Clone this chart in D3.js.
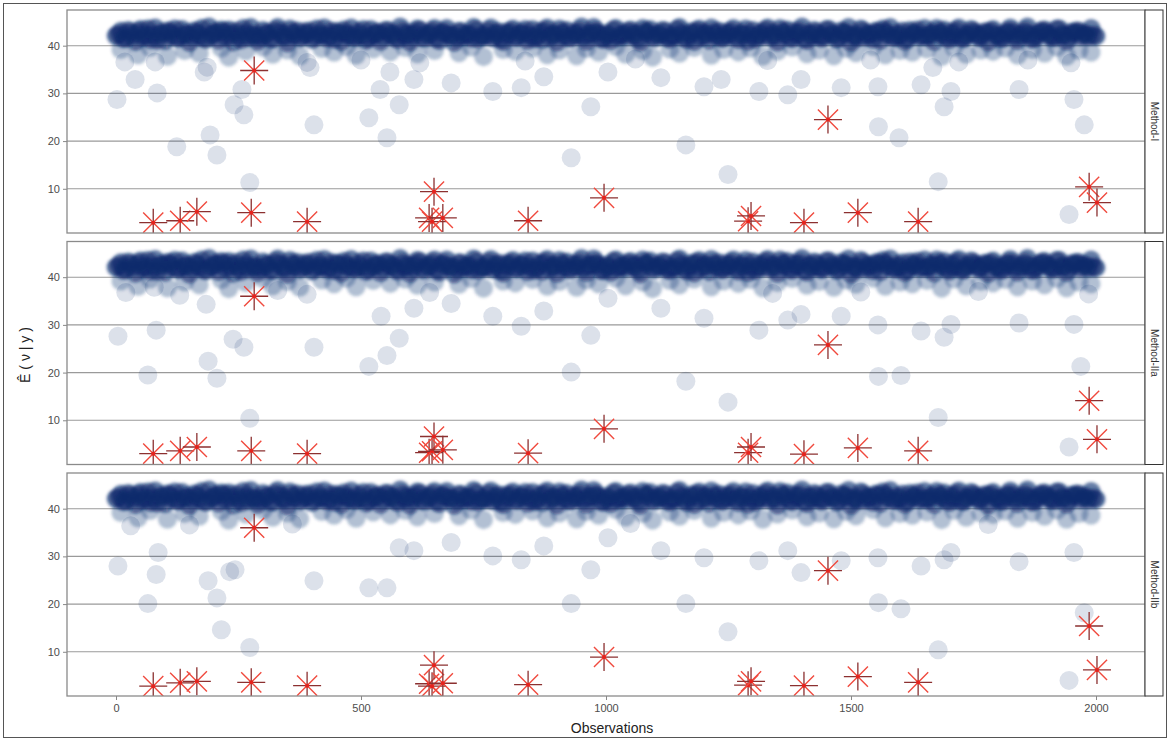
<!DOCTYPE html>
<html>
<head>
<meta charset="utf-8">
<script src="https://cdn.jsdelivr.net/npm/d3@7"></script>
<style>
    body { margin: 0; background: #fff; }
    svg { display: block; font-family: "Liberation Sans", Arial, sans-serif; }
</style>
</head>
<body>
<div id="chart"></div>
<script>
// facet names, top to bottom
const methods = ['Method-I', 'Method-IIa', 'Method-IIb'];

// the dense band of fitted values, shared by all facets:
// bandValues at observations 0, 10, 20, ...; bandValues2 at 5, 15, 25, ...
const bandValues = [
    42.1, 43.0, 41.6, 42.8, 40.9, 43.4, 42.2, 41.3, 43.7, 42.5,
    41.1, 42.9, 43.5, 41.8, 42.4, 40.7, 43.1, 42.0, 41.5, 43.9,
    42.6, 41.2, 42.9, 43.3, 40.8, 42.1, 43.6, 41.7, 42.3, 41.0,
    43.2, 42.7, 41.4, 43.8, 42.0, 40.6, 42.8, 43.1, 41.9, 42.4,
    41.3, 43.5, 42.2, 41.6, 43.0, 42.9, 40.9, 42.5, 43.7, 41.8,
    42.1, 41.2, 43.4, 42.6, 41.0, 43.2, 42.3, 41.7, 43.9, 42.0,
    40.8, 42.7, 43.3, 41.5, 42.4, 43.6, 41.1, 42.8, 42.2, 40.7,
    43.0, 41.9, 42.5, 43.8, 41.4, 42.1, 43.1, 41.6, 42.9, 40.9,
    42.3, 43.5, 41.8, 42.6, 41.2, 43.4, 42.0, 41.3, 43.7, 42.4,
    40.8, 42.8, 43.2, 41.7, 42.2, 43.9, 41.0, 42.7, 43.0, 41.5,
    42.5, 41.1, 43.6, 42.1, 41.9, 43.3, 42.6, 40.7, 42.9, 43.4,
    41.6, 42.3, 43.1, 41.4, 42.0, 43.8, 41.8, 42.4, 40.9, 43.5,
    42.7, 41.2, 42.8, 43.0, 41.7, 42.2, 43.6, 41.3, 42.5, 41.0,
    43.2, 42.1, 41.9, 43.7, 42.6, 40.8, 42.9, 43.3, 41.5, 42.3,
    43.9, 41.1, 42.0, 42.8, 41.6, 43.4, 42.4, 41.4, 43.1, 42.7,
    40.7, 42.2, 43.5, 41.8, 42.5, 43.0, 41.2, 42.9, 43.8, 41.7,
    42.1, 41.0, 43.2, 42.6, 41.9, 43.6, 42.3, 40.9, 42.8, 43.3,
    41.3, 42.0, 43.7, 41.5, 42.4, 43.1, 41.8, 42.7, 40.8, 43.4,
    42.2, 41.6, 43.0, 42.9, 41.1, 42.5, 43.9, 41.4, 42.1, 43.2,
    42.6, 41.7, 43.5, 42.3, 41.0, 42.8, 43.1, 41.9, 42.4, 43.6,
    42.0
];
const bandValues2 = [
    42.4, 41.5, 43.2, 42.0, 42.9, 41.8, 43.5, 42.3, 41.2, 42.7,
    43.1, 42.0, 41.6, 43.4, 42.5, 41.9, 42.8, 43.6, 41.4, 42.2,
    42.9, 43.3, 41.7, 42.4, 43.0, 41.3, 42.6, 43.8, 42.1, 41.8,
    42.5, 41.5, 43.2, 42.8, 41.9, 43.5, 42.2, 41.6, 42.9, 43.1,
    41.8, 42.4, 43.7, 42.0, 41.4, 42.7, 43.3, 42.1, 41.7, 42.9,
    43.4, 41.6, 42.3, 42.8, 41.9, 43.2, 42.5, 41.3, 43.0, 42.6,
    42.0, 43.5, 41.8, 42.4, 43.1, 41.5, 42.7, 43.6, 42.2, 41.7,
    42.9, 42.3, 41.6, 43.3, 42.0, 41.9, 43.7, 42.5, 41.4, 42.8,
    43.0, 41.8, 42.6, 43.4, 42.1, 41.5, 42.9, 43.2, 41.7, 42.4,
    43.5, 42.0, 41.6, 42.7, 43.1, 41.9, 42.3, 43.8, 42.6, 41.4,
    42.2, 43.3, 41.8, 42.5, 43.0, 42.1, 41.5, 43.6, 42.8, 41.9,
    42.4, 43.2, 41.7, 42.0, 43.4, 42.6, 41.3, 42.9, 43.1, 41.8,
    42.3, 43.7, 42.0, 41.6, 42.8, 43.0, 41.9, 42.5, 43.5, 42.2,
    41.4, 42.7, 43.3, 41.8, 42.1, 43.6, 42.4, 41.7, 42.9, 43.0,
    41.5, 42.6, 43.2, 42.0, 41.9, 43.4, 42.3, 41.6, 42.8, 43.8,
    42.1, 41.7, 43.1, 42.5, 41.4, 42.9, 43.5, 42.2, 41.8, 42.6,
    43.0, 41.5, 42.4, 43.3, 42.0, 41.9, 42.7, 43.6, 42.3, 41.7,
    42.8, 43.2, 41.6, 42.1, 43.4, 42.5, 41.8, 42.9, 43.0, 42.2,
    41.5, 42.6, 43.7, 42.0, 41.9, 43.1, 42.4, 41.6, 42.8, 43.3,
    42.1, 41.8, 43.5, 42.3, 41.7, 42.7, 43.0, 42.5, 41.9, 42.2
];
const bandStep = 10;

// observations just under the band, shared by all facets: [observation, value]
const fringe = [
    [10, 39.2], [45, 38.1], [70, 39.6], [105, 37.8], [140, 39.0], [170, 38.4], [215, 39.5],
    [230, 37.6], [265, 38.9], [300, 39.7], [320, 38.2], [350, 39.1], [375, 37.9], [420, 39.4],
    [445, 38.6], [470, 39.8], [490, 38.0], [525, 39.3], [560, 38.7], [590, 39.6], [615, 38.3],
    [650, 39.0], [700, 38.5], [725, 39.7], [750, 37.7], [790, 39.2], [815, 38.8], [850, 39.5],
    [880, 38.1], [905, 39.1], [940, 37.9], [960, 39.4], [985, 38.6], [1020, 39.8], [1040, 38.2],
    [1075, 39.0], [1095, 37.6], [1130, 39.3], [1150, 38.4], [1180, 39.6], [1215, 38.0],
    [1240, 39.2], [1270, 38.7], [1295, 39.5], [1320, 37.8], [1350, 38.9], [1380, 39.7],
    [1410, 38.3], [1435, 39.1], [1465, 37.9], [1490, 39.4], [1510, 38.5], [1545, 39.8],
    [1570, 38.1], [1600, 39.0], [1625, 38.6], [1655, 39.3], [1685, 37.7], [1710, 39.6],
    [1735, 38.2], [1765, 39.1], [1790, 38.8], [1815, 39.5], [1840, 38.0], [1870, 39.2],
    [1895, 38.4], [1920, 39.7], [1940, 37.8], [1965, 39.0], [1990, 38.6]
];

// scattered (light) observations per facet: [observation, value]
const outliersI = [
    [2, 28.7], [18, 36.6], [39, 32.9], [80, 36.6], [84, 30.1], [124, 18.8], [180, 34.5], [186, 35.5],
    [192, 21.3], [206, 17.1], [241, 27.6], [257, 30.8], [261, 25.5], [273, 11.3], [390, 36.5],
    [396, 35.4], [404, 23.4], [500, 37.0], [516, 24.9], [539, 30.8], [553, 20.7], [559, 34.5],
    [578, 27.6], [608, 32.9], [620, 36.4], [684, 32.2], [769, 30.4], [827, 31.2], [835, 36.8],
    [873, 33.5], [929, 16.5], [969, 27.2], [1004, 34.5], [1060, 37.2], [1112, 33.3], [1163, 19.2],
    [1200, 31.4], [1235, 32.9], [1249, 13.0], [1312, 30.4], [1330, 36.9], [1371, 29.7],
    [1398, 32.9], [1480, 31.2], [1540, 37.0], [1555, 31.4], [1556, 23.0], [1598, 20.7],
    [1643, 31.8], [1667, 35.4], [1678, 11.5], [1690, 27.2], [1704, 30.4], [1720, 36.6],
    [1843, 30.8], [1861, 37.0], [1945, 4.6], [1949, 36.4], [1955, 28.7], [1976, 23.4]
];
const outliersIIa = [
    [4, 27.6], [20, 36.8], [65, 19.5], [78, 37.9], [82, 28.9], [130, 36.2], [184, 34.3], [188, 22.4],
    [206, 18.8], [239, 27.0], [261, 25.3], [273, 10.4], [330, 37.2], [390, 36.4], [404, 25.3],
    [516, 21.3], [541, 31.8], [553, 23.6], [578, 27.2], [608, 33.5], [640, 36.8], [684, 34.5],
    [769, 31.8], [827, 29.7], [873, 32.9], [929, 20.1], [969, 27.8], [1004, 35.6], [1112, 33.5],
    [1163, 18.2], [1200, 31.4], [1249, 13.8], [1312, 28.9], [1340, 36.6], [1371, 31.0],
    [1398, 32.2], [1480, 31.8], [1520, 36.9], [1555, 30.0], [1556, 19.2], [1602, 19.4],
    [1643, 28.7], [1690, 27.4], [1704, 30.1], [1678, 10.6], [1760, 37.0], [1843, 30.4],
    [1945, 4.4], [1955, 30.1], [1969, 21.3], [1985, 36.5]
];
const outliersIIb = [
    [4, 28.0], [30, 36.4], [65, 20.1], [82, 26.2], [86, 30.8], [150, 36.6], [188, 24.9], [206, 21.3],
    [215, 14.6], [232, 26.8], [243, 27.2], [273, 10.9], [360, 36.8], [404, 24.9], [516, 23.4],
    [553, 23.4], [578, 31.8], [608, 31.2], [684, 32.9], [769, 30.1], [827, 29.3], [873, 32.2],
    [929, 20.1], [969, 27.2], [1004, 33.9], [1050, 36.9], [1112, 31.2], [1163, 20.1],
    [1200, 29.7], [1249, 14.2], [1312, 29.1], [1371, 31.2], [1398, 26.6], [1480, 29.1],
    [1555, 29.7], [1556, 20.3], [1602, 19.0], [1643, 28.0], [1690, 29.3], [1704, 30.8],
    [1678, 10.4], [1780, 36.7], [1843, 28.9], [1955, 30.8], [1976, 18.2], [1945, 4.0]
];

// flagged observations (red stars) and their value in each facet
const starObs = [76, 131, 165, 276, 282, 390, 639, 645, 649, 667, 841, 996, 1290, 1296, 1404, 1453, 1514, 1637, 1986, 2002];
const starI = [2.9, 3.3, 5.2, 5.0, 34.8, 3.1, 3.9, 3.1, 9.4, 3.9, 3.3, 8.1, 3.2, 4.3, 2.9, 24.5, 5.0, 3.1, 10.4, 7.1];
const starIIa = [3.0, 3.6, 4.4, 3.6, 36.0, 3.0, 3.2, 3.5, 6.6, 3.8, 3.1, 8.2, 3.2, 4.4, 2.9, 25.8, 4.2, 3.6, 14.1, 6.0];
const starIIb = [2.8, 3.5, 3.8, 3.6, 36.0, 2.9, 3.3, 2.8, 7.2, 3.4, 3.1, 8.9, 3.0, 3.8, 2.9, 27.0, 4.8, 3.6, 15.4, 6.2];

const xTicks = [0, 500, 1000, 1500, 2000];
const yTicks = [10, 20, 30, 40];

const outliers = [outliersI, outliersIIa, outliersIIb];
const stars = [starI, starIIa, starIIb];

const width = 1170, height = 740;
const panel = { left: 67, right: 1145, top: 10, height: 223, gap: 8.5 };
const stripWidth = 18;
const navy = '#0a2a6c';

const svg = d3.select('#chart').append('svg')
    .attr('width', width)
    .attr('height', height);

// soft edge for the overplotted band
svg.append('defs').append('filter')
    .attr('id', 'soft')
    .attr('x', '-5%').attr('y', '-50%')
    .attr('width', '110%').attr('height', '200%')
    .append('feGaussianBlur')
    .attr('stdDeviation', 1.6);

// outer frame
svg.append('rect')
    .attr('x', 3.5).attr('y', 3.5)
    .attr('width', 1163).attr('height', 734)
    .attr('fill', 'none')
    .attr('stroke', '#555')
    .attr('stroke-width', 1);

const x = d3.scaleLinear()
    .domain([-100, 2100])
    .range([panel.left, panel.right]);

function starPath(r) {
    const d = r * 0.72;
    return {
        plus: `M${-r},0L${r},0M0,${-r}L0,${r}`,
        cross: `M${-d},${-d}L${d},${d}M${-d},${d}L${d},${-d}`
    };
}
const star = starPath(14);

// band points as [observation, value]
const band = bandValues.map((v, k) => [k * bandStep, v])
    .concat(bandValues2.map((v, k) => [k * bandStep + bandStep / 2, v]));

methods.forEach((name, i) => {
    const top = panel.top + i * (panel.height + panel.gap);
    const y = d3.scaleLinear()
        .domain([0.73, 47.48])
        .range([top + panel.height, top]);

    const g = svg.append('g').attr('class', 'facet');

    // gridlines
    g.append('g')
        .selectAll('line')
        .data(yTicks)
        .join('line')
        .attr('x1', panel.left).attr('x2', panel.right)
        .attr('y1', (d) => y(d)).attr('y2', (d) => y(d))
        .attr('stroke', '#9a9a9a')
        .attr('stroke-width', 1.1);

    // y axis
    const yAxis = g.append('g')
        .attr('transform', `translate(${panel.left},0)`)
        .call(d3.axisLeft(y).tickValues(yTicks).tickSize(4).tickPadding(3));
    yAxis.select('.domain').remove();
    yAxis.selectAll('line').attr('stroke', '#888');
    yAxis.selectAll('text').attr('fill', '#4d4d4d').style('font-size', '11px');

    const clipId = `clip-${i}`;
    svg.append('clipPath').attr('id', clipId)
        .append('rect')
        .attr('x', panel.left).attr('y', top)
        .attr('width', panel.right - panel.left).attr('height', panel.height);

    const plot = g.append('g').attr('clip-path', `url(#${clipId})`);

    // scattered observations
    plot.append('g')
        .selectAll('circle')
        .data(outliers[i])
        .join('circle')
        .attr('cx', (d) => x(d[0]))
        .attr('cy', (d) => y(d[1]))
        .attr('r', 9.5)
        .attr('fill', navy)
        .attr('fill-opacity', 0.14);

    // fringe and dense band, softened
    const dense = plot.append('g').attr('filter', 'url(#soft)');
    dense.append('g')
        .selectAll('circle')
        .data(fringe)
        .join('circle')
        .attr('cx', (d) => x(d[0]))
        .attr('cy', (d) => y(d[1]))
        .attr('r', 9.5)
        .attr('fill', navy)
        .attr('fill-opacity', 0.3);
    dense.append('g')
        .selectAll('circle')
        .data(band)
        .join('circle')
        .attr('cx', (d) => x(d[0]))
        .attr('cy', (d) => y(d[1]))
        .attr('r', 9.5)
        .attr('fill', navy)
        .attr('fill-opacity', 0.6);

    // flagged observations
    const starG = plot.append('g')
        .selectAll('g')
        .data(starObs.map((o, k) => [o, stars[i][k]]))
        .join('g')
        .attr('transform', (d) => `translate(${x(d[0])},${y(d[1])})`);
    starG.append('path')
        .attr('d', star.cross)
        .attr('stroke', '#f04a3e')
        .attr('stroke-width', 1.4)
        .attr('fill', 'none');
    starG.append('path')
        .attr('d', star.plus)
        .attr('stroke', '#8c3030')
        .attr('stroke-width', 1.3)
        .attr('fill', 'none');
    starG.append('circle')
        .attr('r', 2)
        .attr('fill', '#e8221c');

    // panel border
    g.append('rect')
        .attr('x', panel.left).attr('y', top)
        .attr('width', panel.right - panel.left).attr('height', panel.height)
        .attr('fill', 'none')
        .attr('stroke', '#8a8a8a')
        .attr('stroke-width', 1.3);

    // strip
    g.append('rect')
        .attr('x', panel.right).attr('y', top)
        .attr('width', stripWidth).attr('height', panel.height)
        .attr('fill', '#fff')
        .attr('stroke', '#333')
        .attr('stroke-width', 1);
    g.append('text')
        .attr('transform', `translate(${panel.right + stripWidth / 2},${top + panel.height / 2}) rotate(90)`)
        .attr('text-anchor', 'middle')
        .attr('dy', '0.35em')
        .attr('fill', '#333')
        .style('font-size', '10px')
        .text(name);

    // x axis under the last facet
    if (i === methods.length - 1) {
        const xAxis = g.append('g')
            .attr('transform', `translate(0,${top + panel.height})`)
            .call(d3.axisBottom(x).tickValues(xTicks).tickFormat(d3.format('d')).tickSize(4).tickPadding(4));
        xAxis.select('.domain').remove();
        xAxis.selectAll('line').attr('stroke', '#888');
        xAxis.selectAll('text').attr('fill', '#4d4d4d').style('font-size', '11px');
    }
});

// axis titles
svg.append('text')
    .attr('x', (panel.left + panel.right) / 2 + 6)
    .attr('y', 733)
    .attr('text-anchor', 'middle')
    .attr('fill', '#222')
    .style('font-size', '14px')
    .text('Observations');

svg.append('text')
    .attr('transform', 'translate(30,355) rotate(-90)')
    .attr('text-anchor', 'middle')
    .attr('fill', '#222')
    .style('font-size', '14px')
    .text('Ê ( ν | y )');
</script>
</body>
</html>
